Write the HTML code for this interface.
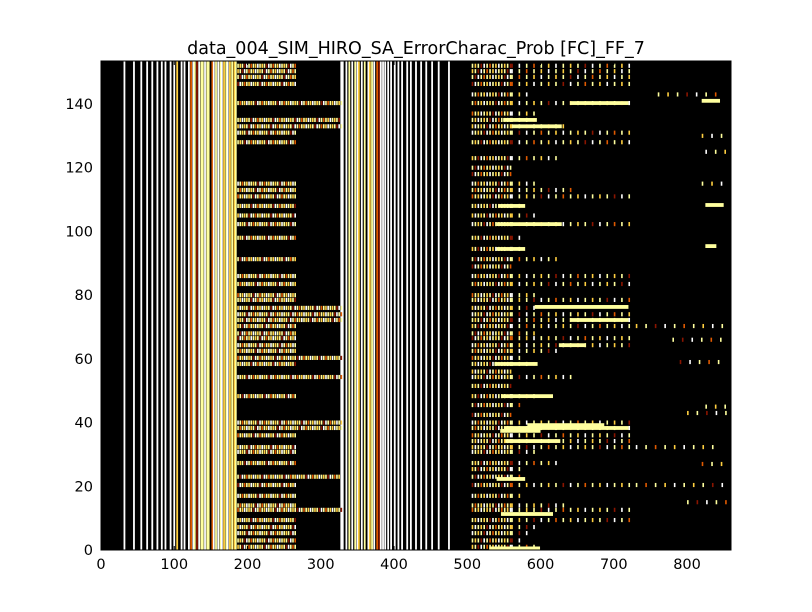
<!DOCTYPE html>
<html><head><meta charset="utf-8">
<style>
body{margin:0;background:#fff;}
svg{display:block;font-family:"DejaVu Sans","Liberation Sans",sans-serif;}
</style></head>
<body>
<svg id="chart" width="812" height="612" viewBox="0 0 812 612" xmlns="http://www.w3.org/2000/svg">
<rect width="812" height="612" fill="#fff"/>
<text x="416" y="54" font-size="17.5" text-anchor="middle">data_004_SIM_HIRO_SA_ErrorCharac_Prob [FC]_FF_7</text>
<rect x="101" y="61" width="630" height="489" fill="#000"/>
<g id="marks"></g>
<g id="axes"></g>
</svg>
<script>
// ---- data ----
var xTicks = [0,100,200,300,400,500,600,700,800];
var yTicks = [0,20,40,60,80,100,120,140];
var stripeX = [32,45,55,63,70,77,83,88,95,100,104,110,114,120,123,126,128,131,134,137,139,142,145,147,152,154,157,160,163,165,168,171,173,176,179,182,184,
  328,330,335,339,343,347,350,352,356,360,365,367,370,373,377,380,382,385,388,392,396,401,406,411,418,423,430,437,444,452,461,475];
var stripeLevel = [5,5,5,5,5,5,5,5,5,5,3,5,5,5,2,5,4,1,5,4,4,5,4,4,2,5,4,5,4,5,3,4,5,3,4,3,4,
  5,5,5,4,5,4,5,3,5,4,5,3,4,5,2,1,5,5,5,5,5,5,5,5,5,5,5,5,5,5,5,5];
var rowY = [152,150.3,148.5,146.3,143,140.3,137,135,133,131,128,123,120,118,115,113,111,108,105,102.3,98,94.5,91.3,89,86,83.5,80,78.5,76,74,72.2,70.3,68,66.5,64.3,62.5,60.3,58.4,56,54.3,51.5,48.3,45.5,42.4,40,38.3,36,34.2,32.3,30.8,27.3,25.4,23,20.4,17,14,12.6,9.4,7.2,5.3,3,1];
var rowLeftEnd = [265,265,265,265,0,330,0,330,330,265,265,0,0,0,265,265,265,265,265,265,265,0,265,0,265,265,265,265,330,330,330,265,265,265,265,265,330,265,0,330,0,265,0,0,330,330,265,0,265,265,265,0,330,265,265,265,330,265,265,265,265,265];
var rowRightEnd = [723,723,723,723,583,723,600,600,640,723,723,622,560,560,600,650,723,580,600,723,580,580,622,560,723,723,600,723,600,723,723,723,600,723,723,622,580,600,560,650,560,600,580,560,723,723,723,723,723,600,622,580,580,723,580,640,723,723,600,583,580,600];
var barY = [140.3,135,133,108,102.3,94.5,76.3,72.2,64.3,58.4,48.3,39.2,38.3,37.4,34.2,22.3,11.3,0.5,108.3,95.4,141];
var barX0 = [640,549,561,542,540,540,592,640,625,537,546,582,550,545,552,540,546,530,825,825,820];
var barX1 = [720,595,629,579,629,579,720,720,660,596,617,687,720,600,627,579,617,600,850,840,845];
var farY = [143,70.3,66,59,32.3,20.4,27,115,130,125,45,43,15];
var farX0 = [760,730,780,790,730,730,820,820,820,825,825,800,800];
var farX1 = [850,855,855,855,845,855,855,855,855,855,855,855,855];
// ---- scales ----
var X0=101,X1=731,Y0=550,Y1=61,XMAX=860,YMAX=153.5;
function sx(v){return X0+(v/XMAX)*(X1-X0);}
function sy(v){return Y0-(v/YMAX)*(Y0-Y1);}
var levels=['#000','#8a1500','#e05a00','#ffcf40','#ffff9e','#ffffff'];
var cycle=[4,3,4,1,5,4,2,4,3,5];
var NS='http://www.w3.org/2000/svg';
var marks=document.getElementById('marks');
function rect(x,y,w,h,fill,name){
  var r=document.createElementNS(NS,'rect');
  r.setAttribute('x',x);r.setAttribute('y',y);r.setAttribute('width',w);r.setAttribute('height',h);r.setAttribute('fill',fill);
  
  
  marks.appendChild(r);return r;
}
var uh=(Y0-Y1)/YMAX;
stripeX.forEach(function(v,i){rect(sx(v)-0.9,Y1,1.8,Y0-Y1,levels[stripeLevel[i]],'column-stripe');});
function dashRow(y,a,b,step,k){
  for(var x=a,j=0;x<b;x+=step,j++){
    rect(sx(x),sy(y)-uh*0.65,1.6,uh*1.3,levels[cycle[(j+k)%cycle.length]],'heat-cell');
  }
}
rowY.forEach(function(y,i){
  if(rowLeftEnd[i]>0) dashRow(y,186,rowLeftEnd[i],3,i);
  if(rowRightEnd[i]>0){
    dashRow(y,506,Math.min(560,rowRightEnd[i]),4,i);
    if(rowRightEnd[i]>560) dashRow(y,560,rowRightEnd[i],10,i+3);
  }
});
farY.forEach(function(y,i){dashRow(y,farX0[i],farX1[i],13,i);});
barY.forEach(function(y,i){rect(sx(barX0[i]),sy(y)-uh*0.6,sx(barX1[i])-sx(barX0[i]),uh*1.2,'#ffff9e','bar-segment');});
// ---- axes ----
var ax=document.getElementById('axes');
function el(tag,attrs,name,txt){
  var e=document.createElementNS(NS,tag);
  for(var k in attrs)e.setAttribute(k,attrs[k]);
  
  
  if(txt!==undefined)e.textContent=txt;
  ax.appendChild(e);return e;
}
el('rect',{x:X0,y:Y1,width:X1-X0,height:Y0-Y1,fill:'none',stroke:'#000','stroke-width':1},'plot-frame');
xTicks.forEach(function(t){
  var x=sx(t);
  el('line',{x1:x,x2:x,y1:Y0,y2:Y0-4,stroke:'#000'},'x-tick');
  el('line',{x1:x,x2:x,y1:Y1,y2:Y1+4,stroke:'#000'},'x-tick-top');
  el('text',{x:x,y:Y0+19,'font-size':14.5,'text-anchor':'middle'},'x-tick-label',String(t));
});
yTicks.forEach(function(t){
  var y=sy(t);
  el('line',{x1:X0,x2:X0+4,y1:y,y2:y,stroke:'#000'},'y-tick');
  el('line',{x1:X1,x2:X1-4,y1:y,y2:y,stroke:'#000'},'y-tick-right');
  el('text',{x:X0-8,y:y+5,'font-size':14.5,'text-anchor':'end'},'y-tick-label',String(t));
});
</script>
</body></html>
